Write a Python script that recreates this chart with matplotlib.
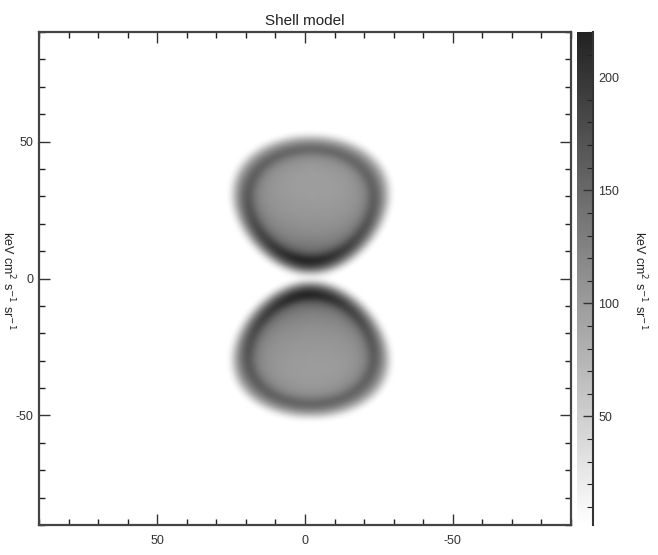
import numpy as np
import matplotlib
matplotlib.use("Agg")
import matplotlib.pyplot as plt
from matplotlib.colors import LinearSegmentedColormap, Normalize
from matplotlib.ticker import MultipleLocator

# ---- model parameters ----
shell_centre_x = [-2.0, -2.0]
shell_centre_y = [27.0, -26.0]
shell_outer_rx = [26.5, 26.5]
shell_outer_ry = [25.5, 25.0]
shell_inner_frac = [0.77, 0.77]
shell_fill = [0.13, 0.13]
shell_taper = [0.17, -0.17]
emiss_scale_len = 60.0
peak_value = 215.0

x_ticks = [50, 0, -50]
y_ticks = [-50, 0, 50]
cbar_ticks = [50, 100, 150, 200]
cbar_range = [2.0, 220.0]
title = "Shell model"
unit_label = r"keV cm$^2$ s$^{-1}$ sr$^{-1}$"

plt.rcParams['font.family'] = ['Liberation Sans', 'DejaVu Sans']
plt.rcParams['axes.unicode_minus'] = False

# ---- build the projected image ----
step = 0.5
gx = np.arange(-90, 90 + step, step)
gy = np.arange(-90, 90 + step, step)
gz = np.arange(-35, 35 + step, step)
X, Y = np.meshgrid(gx, gy)
img = np.zeros_like(X)
for z in gz:
    d = np.sqrt(X**2 + Y**2 + z**2)
    w = np.exp(-d / emiss_scale_len)
    for xc, yc, rx, ry, f, e, t in zip(shell_centre_x, shell_centre_y, shell_outer_rx,
                                       shell_outer_ry, shell_inner_frac, shell_fill,
                                       shell_taper):
        v = (Y - yc) / ry
        a = rx * (1 + t * np.clip(v, -1, 1))
        s = np.sqrt(((X - xc)**2 + z**2) / a**2 + v**2)
        emis = np.where((s >= f) & (s <= 1.0), 1.0, np.where(s < f, e, 0.0))
        img += emis * w * step

# gaussian blur
sig = 1.3 / step
kx = np.arange(-int(4 * sig), int(4 * sig) + 1)
ker = np.exp(-0.5 * (kx / sig)**2)
ker /= ker.sum()
img = np.apply_along_axis(lambda r: np.convolve(r, ker, mode='same'), 1, img)
img = np.apply_along_axis(lambda c: np.convolve(c, ker, mode='same'), 0, img)
img = img / img.max() * peak_value

# ---- plot ----
fig = plt.figure(figsize=(6.58, 5.55), dpi=100)
ax = fig.add_axes([39 / 658, 1 - 525 / 555, 532 / 658, 493 / 555])
cax = fig.add_axes([577 / 658, 1 - 525 / 555, 16 / 658, 493 / 555])

cmap = LinearSegmentedColormap.from_list("g", ["#ffffff", "#222222"])
cmap.set_under("#ffffff")
norm = Normalize(vmin=cbar_range[0], vmax=cbar_range[1])
im = ax.imshow(img, extent=(gx[0], gx[-1], gy[0], gy[-1]), origin='lower',
               cmap=cmap, norm=norm, aspect='auto', interpolation='bilinear')
ax.set_xlim(90, -90)
ax.set_ylim(-90, 90)
ax.set_xticks(x_ticks)
ax.set_yticks(y_ticks)
ax.xaxis.set_minor_locator(MultipleLocator(10))
ax.yaxis.set_minor_locator(MultipleLocator(10))
ax.tick_params(which='both', direction='in', top=True, right=True, color='#222222')
ax.tick_params(which='major', length=8, width=1.0, labelsize=9, colors='#333333')
ax.tick_params(which='minor', length=4, width=1.0)
ax.tick_params(axis='x', which='major', pad=7)
ax.tick_params(axis='y', which='major', pad=4)
for sp in ax.spines.values():
    sp.set_linewidth(1.6)
    sp.set_color('#444444')
ax.set_title(title, fontsize=11, pad=5, color='#222222')

cb = fig.colorbar(im, cax=cax)
cb.outline.set_visible(False)
cb.set_ticks(cbar_ticks)
cax.yaxis.set_minor_locator(MultipleLocator(10))
cax.tick_params(which='both', direction='in', right=True, left=False, color='#222222')
cax.tick_params(which='major', length=7, width=1.0, labelsize=9, pad=4, colors='#333333')
cax.tick_params(which='minor', length=4, width=0.8)
cax.spines['right'].set_visible(True)
cax.spines['right'].set_linewidth(1.5)
cax.spines['right'].set_color('#333333')

fig.text(640 / 658, 1 - 280 / 555, unit_label, rotation=270, ha='center', va='center',
         fontsize=9, color='#222222')
fig.text(8 / 658, 1 - 280 / 555, unit_label, rotation=270, ha='center', va='center',
         fontsize=9, color='#222222')

fig.savefig("out.png", dpi=100)
